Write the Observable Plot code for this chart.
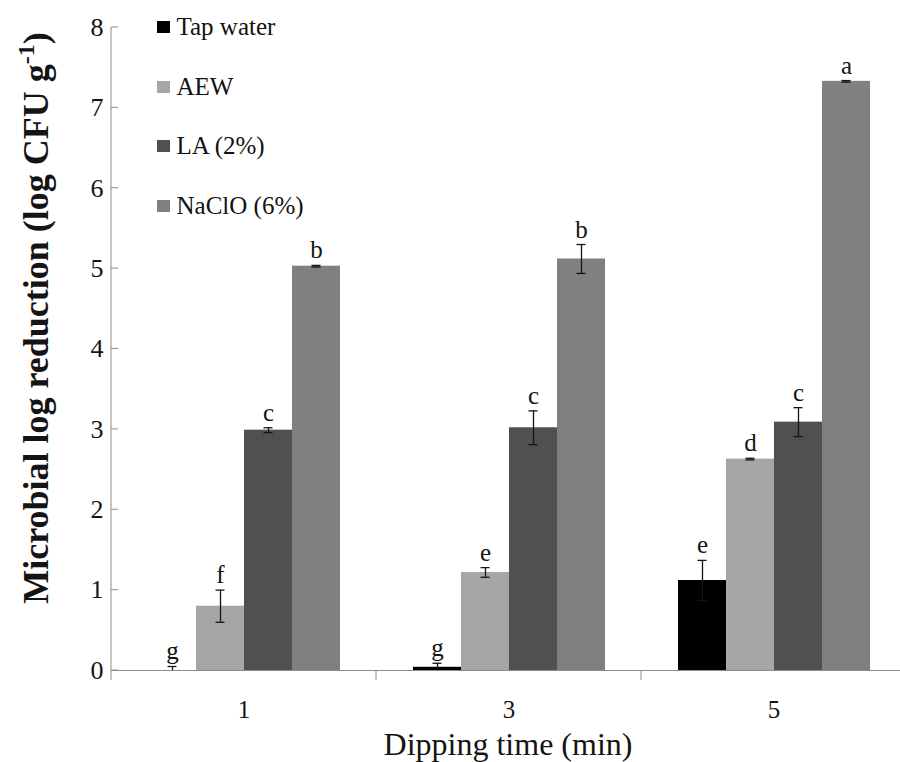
<!DOCTYPE html>
<html>
<head>
<meta charset="utf-8">
<script src="https://cdn.jsdelivr.net/npm/d3@7"></script>
<script src="https://cdn.jsdelivr.net/npm/@observablehq/plot@0.6"></script>
<style>
  html, body { margin: 0; padding: 0; background: #fff; }
  #figure { position: relative; width: 900px; height: 762px; overflow: hidden;
            font-family: "Liberation Serif", "Times New Roman", serif; }
  #figure svg { position: absolute; left: 0; top: 0; }
  #figure svg text { font-family: "Liberation Serif", "Times New Roman", serif; }
  .legend { position: absolute; left: 157px; top: 0; }
  .legend .row { position: absolute; left: 0; height: 30px; display: flex; align-items: center;
                 white-space: nowrap; font-size: 25px; color: #111;
                 font-family: "Liberation Serif", "Times New Roman", serif; }
  .legend .swatch { width: 12.5px; height: 12px; margin-right: 7px; flex: none; }
</style>
</head>
<body>
<div id="figure"></div>
<script>
// Dipping time groups (min) and treatments
const dippingTimes = ["1", "3", "5"];
const treatments = ["Tap water", "AEW", "LA (2%)", "NaClO (6%)"];
const treatmentColors = ["#000000", "#a6a6a6", "#505050", "#808080"];

// Mean microbial log reduction (log CFU g-1), one value per dipping time
const tapWater = [0.00, 0.04, 1.12];
const aew      = [0.80, 1.22, 2.63];
const la       = [2.99, 3.02, 3.09];
const naclo    = [5.03, 5.12, 7.33];

// Standard deviations
const tapWaterSD = [0.05, 0.05, 0.25];
const aewSD      = [0.20, 0.06, 0.01];
const laSD       = [0.03, 0.21, 0.18];
const nacloSD    = [0.01, 0.18, 0.01];

// Significance letters
const tapWaterLetters = ["g", "g", "e"];
const aewLetters      = ["f", "e", "d"];
const laLetters       = ["c", "c", "c"];
const nacloLetters    = ["b", "b", "a"];

const yTicks = [0, 1, 2, 3, 4, 5, 6, 7, 8];

const series = [tapWater, aew, la, naclo];
const deviations = [tapWaterSD, aewSD, laSD, nacloSD];
const letters = [tapWaterLetters, aewLetters, laLetters, nacloLetters];

const rows = dippingTimes.flatMap((time, i) =>
  treatments.map((treatment, j) => ({
    time,
    treatment,
    value: series[j][i],
    sd: deviations[j][i],
    letter: letters[j][i]
  }))
);

const axisGray = "#8c8c8c";
const ink = "#141414";
const serif = "'Liberation Serif', 'Times New Roman', serif";

const chart = Plot.plot({
  width: 900,
  height: 762,
  marginTop: 27,
  marginRight: 0,
  marginBottom: 92,
  marginLeft: 110,
  style: { fontFamily: serif, background: "transparent" },
  fx: { domain: dippingTimes, range: [110, 906], padding: 0, label: null },
  x: { domain: treatments, paddingInner: 0, paddingOuter: 0.74, axis: null },
  y: { domain: [0, 8], label: null },
  color: { domain: treatments, range: treatmentColors },
  marks: [
    Plot.barY(rows, { fx: "time", x: "treatment", y: "value", fill: "treatment" }),
    Plot.ruleY([0], { stroke: axisGray }),
    // error bars
    Plot.ruleX(rows, {
      fx: "time", x: "treatment",
      y1: d => Math.max(0, d.value - d.sd), y2: d => d.value + d.sd,
      stroke: ink, strokeWidth: 1.3
    }),
    Plot.tickY(rows, {
      fx: "time", x: "treatment", y: d => d.value + d.sd,
      stroke: ink, strokeWidth: 1.3, insetLeft: 19.5, insetRight: 19.5
    }),
    Plot.tickY(rows.filter(d => d.value - d.sd > 0), {
      fx: "time", x: "treatment", y: d => d.value - d.sd,
      stroke: ink, strokeWidth: 1.3, insetLeft: 19.5, insetRight: 19.5
    }),
    // significance letters
    Plot.text(rows, {
      fx: "time", x: "treatment", y: d => d.value + d.sd, text: "letter",
      lineAnchor: "bottom", dy: -7, fontSize: 25, fontFamily: serif, fill: ink
    }),
    Plot.axisY({ ticks: yTicks, tickSize: 0, tickPadding: 8, fontSize: 26, fontFamily: serif, color: ink, label: null }),
    Plot.axisFx({ anchor: "bottom", tickSize: 0, tickPadding: 30, fontSize: 25, fontFamily: serif, color: ink, label: null })
  ]
});

// Axis frame: vertical axis line with inward ticks, group separators below the baseline
const svg = d3.select(chart);
const fx = chart.scale("fx");
const y = chart.scale("y");
const y0 = y.apply(0);
const left = fx.apply(dippingTimes[0]);

const frame = svg.append("g").attr("stroke", axisGray).attr("stroke-width", 1).attr("fill", "none");
frame.append("line")
  .attr("x1", left).attr("x2", left)
  .attr("y1", y.apply(d3.max(yTicks))).attr("y2", y0 + 10);
frame.selectAll("line.ytick").data(yTicks).join("line")
  .attr("class", "ytick")
  .attr("x1", left).attr("x2", left + 7)
  .attr("y1", d => y.apply(d)).attr("y2", d => y.apply(d));
frame.selectAll("line.sep").data(dippingTimes.slice(1)).join("line")
  .attr("class", "sep")
  .attr("x1", d => fx.apply(d)).attr("x2", d => fx.apply(d))
  .attr("y1", y0).attr("y2", y0 + 10);

// Axis titles
const yTitle = svg.append("text")
  .attr("transform", "translate(48,318) rotate(-90)")
  .attr("text-anchor", "middle")
  .attr("font-size", 36)
  .attr("font-weight", "bold")
  .attr("fill", ink);
yTitle.append("tspan").text("Microbial log reduction (log CFU g");
yTitle.append("tspan").attr("font-size", 24).attr("dy", -14).text("-1");
yTitle.append("tspan").attr("dy", 14).text(")");

svg.append("text")
  .attr("x", (fx.range[0] + fx.range[1]) / 2)
  .attr("y", 755)
  .attr("text-anchor", "middle")
  .attr("font-size", 32)
  .attr("fill", ink)
  .text("Dipping time (min)");

const figure = document.getElementById("figure");
figure.append(chart);

// Legend
const legendCenters = [27, 86.5, 146, 205.5];
const legend = document.createElement("div");
legend.className = "legend";
treatments.forEach((name, i) => {
  const row = document.createElement("div");
  row.className = "row";
  row.style.top = (legendCenters[i] - 15) + "px";
  const sw = document.createElement("span");
  sw.className = "swatch";
  sw.style.background = treatmentColors[i];
  const label = document.createElement("span");
  label.textContent = name;
  row.append(sw, label);
  legend.append(row);
});
figure.append(legend);
</script>
</body>
</html>
